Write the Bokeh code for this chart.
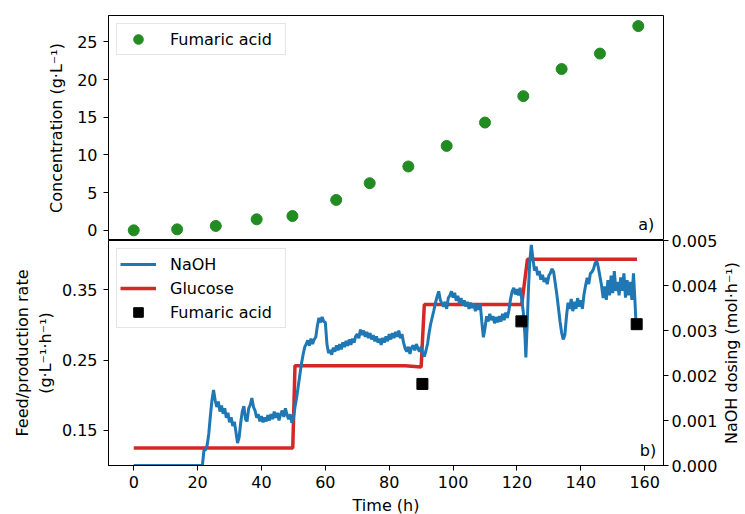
import math
from bokeh.plotting import figure
from bokeh.models import (Range1d, LinearAxis, FixedTicker, PrintfTickFormatter,
                          Legend, LegendItem, Label)
from bokeh.core.properties import value
from bokeh.layouts import column, row
from bokeh.embed import file_html
from bokeh.resources import INLINE

# ---------------- data ----------------
conc_time = [0, 13.6, 25.7, 38.5, 49.7, 63.4, 73.9, 86.0, 98.0, 110.0, 122.0, 134.0, 146.0, 158.0]
conc_fa = [0.0, 0.13, 0.58, 1.46, 1.9, 4.03, 6.25, 8.47, 11.2, 14.3, 17.8, 21.4, 23.45, 27.1]

glc_time = [0, 49.8, 50.5, 85.0, 90.0, 91.0, 121.5, 123.3, 157.6]
glc_rate = [0.125, 0.125, 0.242, 0.242, 0.240, 0.329, 0.329, 0.3935, 0.3935]

fa_time = [90.4, 121.4, 157.5]
fa_rate = [0.216, 0.305, 0.301]

# NaOH dosing, (time h, mmol/h)
naoh_points = [
    (0, 0.0), (21.5, 0.0), (22, 0.34), (22.5, 0.35), (23, 0.45), (23.5, 0.7), (24, 1.1), (24.5, 1.45),
    (25, 1.68), (25.5, 1.45), (26, 1.3), (26.5, 1.42), (27, 1.2), (27.5, 1.33), (28, 1.15), (28.5, 1.27),
    (29, 1.06), (29.5, 1.17), (30, 0.96), (30.5, 1.07), (31, 0.88), (31.5, 0.97), (32, 0.75), (32.5, 0.5),
    (33, 0.62), (33.5, 0.95), (34, 1.2), (34.5, 1.32), (35, 1.03), (35.5, 0.98), (36, 1.27), (36.5, 1.35),
    (37, 1.5), (37.5, 1.3), (38, 1.22), (38.5, 1.06), (39, 1.14), (39.5, 0.98), (40, 1.1), (40.5, 0.96),
    (41, 1.07), (41.5, 0.98), (42, 1.12), (42.5, 1.0), (43, 1.14), (43.5, 1.03), (44, 1.2), (44.5, 1.06),
    (45, 1.17), (45.5, 1.0), (46, 1.14), (46.5, 1.22), (47, 1.08), (47.5, 1.27), (48, 1.13), (48.5, 1.03),
    (49, 1.14), (49.5, 0.95), (50, 1.05), (50.5, 1.3), (51, 1.5), (51.5, 1.75), (52, 2.0), (52.5, 2.25),
    (53, 2.45), (53.5, 2.62), (54, 2.7), (54.5, 2.78), (55, 2.66), (55.5, 2.82), (56, 2.7), (56.5, 2.8),
    (57, 2.85), (57.5, 3.1), (58, 3.28), (58.5, 3.18), (59, 3.3), (59.5, 3.2), (60, 3.18), (60.5, 2.7),
    (61, 2.5), (61.5, 2.57), (62, 2.46), (62.5, 2.62), (63, 2.53), (63.5, 2.67), (64, 2.56), (64.5, 2.7),
    (65, 2.58), (65.5, 2.74), (66, 2.63), (66.5, 2.77), (67, 2.66), (67.5, 2.8), (68, 2.68), (68.5, 2.82),
    (69, 2.73), (69.5, 2.87), (70, 2.92), (70.5, 2.83), (71, 3.02), (71.5, 2.9), (72, 3.0), (72.5, 2.86),
    (73, 2.97), (73.5, 2.83), (74, 2.94), (74.5, 2.8), (75, 2.9), (75.5, 2.76), (76, 2.87), (76.5, 2.73),
    (77, 2.82), (77.5, 2.68), (78, 2.84), (78.5, 2.73), (79, 2.87), (79.5, 2.76), (80, 2.92), (80.5, 2.8),
    (81, 2.94), (81.5, 2.83), (82, 2.97), (82.5, 2.86), (83, 3.0), (83.5, 2.83), (84, 2.92), (84.5, 2.73),
    (85, 2.6), (85.5, 2.53), (86, 2.64), (86.5, 2.48), (87, 2.62), (87.5, 2.67), (88, 2.56), (88.5, 2.7),
    (89, 2.6), (89.5, 2.53), (90, 2.64), (90.5, 2.48), (91, 2.42), (91.5, 2.55), (92, 2.7), (92.5, 2.95),
    (93, 3.15), (93.5, 3.3), (94, 3.45), (94.5, 3.62), (95, 3.75), (95.5, 3.87), (96, 3.68), (96.5, 3.6),
    (97, 3.53), (97.5, 3.64), (98, 3.48), (98.5, 3.72), (99, 3.78), (99.5, 3.87), (100, 3.73), (100.5, 3.84),
    (101, 3.66), (101.5, 3.77), (102, 3.6), (102.5, 3.72), (103, 3.56), (103.5, 3.67), (104, 3.53), (104.5, 3.64),
    (105, 3.48), (105.5, 3.62), (106, 3.5), (106.5, 3.6), (107, 3.43), (107.5, 3.57), (108, 3.46), (108.5, 3.6),
    (109, 3.2), (109.5, 2.85), (110, 3.05), (110.5, 3.32), (111, 3.2), (111.5, 3.37), (112, 3.23), (112.5, 3.32),
    (113, 3.16), (113.5, 3.3), (114, 3.18), (114.5, 3.32), (115, 3.2), (115.5, 3.37), (116, 3.23), (116.5, 3.4),
    (117, 3.28), (117.5, 3.45), (118, 3.7), (118.5, 3.87), (119, 3.95), (119.5, 3.8), (120, 3.92), (120.5, 3.78),
    (121, 3.95), (121.5, 3.7), (122, 3.4), (122.5, 2.9), (122.8, 2.4), (123.2, 3.1), (123.6, 3.9), (124, 4.5),
    (124.5, 4.9), (125, 4.6), (125.5, 4.33), (126, 4.42), (126.5, 4.23), (127, 4.32), (127.5, 4.13), (128, 4.24),
    (128.5, 4.08), (129, 4.17), (129.5, 4.03), (130, 4.22), (130.5, 4.28), (131, 4.37), (131.5, 4.3), (132, 4.05),
    (132.5, 3.8), (133, 3.5), (133.5, 3.2), (134, 2.95), (134.5, 2.8), (135, 2.9), (135.5, 3.3), (136, 3.62),
    (136.5, 3.48), (137, 3.7), (137.5, 3.43), (138, 3.64), (138.5, 3.48), (139, 3.72), (139.5, 3.53), (140, 3.67),
    (140.5, 3.48), (141, 3.8), (141.5, 4.0), (142, 4.17), (142.5, 4.03), (143, 4.27), (143.5, 4.3), (144, 4.37),
    (144.5, 4.5), (145, 4.55), (145.5, 4.4), (146, 4.2), (146.5, 4.0), (147, 3.72), (147.5, 3.98), (148, 3.68),
    (148.5, 4.12), (149, 3.78), (149.5, 4.22), (150, 3.83), (150.5, 4.32), (151, 3.88), (151.5, 4.08), (152, 3.78),
    (152.5, 4.18), (153, 3.88), (153.5, 4.27), (154, 3.73), (154.5, 4.12), (155, 3.78), (155.5, 4.08), (156, 3.68),
    (156.5, 4.27), (157, 3.6), (157.3, 3.15),
]
naoh_time = [p[0] for p in naoh_points]
naoh_rate = [p[1] / 1000.0 for p in naoh_points]

x_ticks = [0, 20, 40, 60, 80, 100, 120, 140, 160]
conc_ticks = [0, 5, 10, 15, 20, 25]
rate_ticks = [0.15, 0.25, 0.35]
naoh_ticks = [0.0, 0.001, 0.002, 0.003, 0.004, 0.005]

naoh_title = "NaOH dosing (mol·h⁻¹)"

# ---------------- style ----------------
FONT = "DejaVu Sans"
FS = "16px"


def style_axis(ax, standoff_label=10, standoff_ticks=6):
    ax.axis_line_color = "black"
    ax.axis_line_width = 1
    ax.major_tick_line_color = "black"
    ax.major_tick_line_width = 1
    ax.major_tick_out = 5
    ax.major_tick_in = 0
    ax.minor_tick_line_color = None
    ax.major_label_text_font = FONT
    ax.major_label_text_font_size = FS
    ax.major_label_text_color = "black"
    ax.major_label_standoff = standoff_ticks
    ax.axis_label_text_font = FONT
    ax.axis_label_text_font_size = FS
    ax.axis_label_text_font_style = "normal"
    ax.axis_label_text_color = "black"
    ax.axis_label_standoff = standoff_label


def style_fig(p):
    p.xgrid.visible = False
    p.ygrid.visible = False
    p.outline_line_color = "black"
    p.outline_line_width = 1
    p.background_fill_color = "white"


def style_legend(lg):
    lg.location = "top_left"
    lg.margin = 8
    lg.padding = 3
    lg.spacing = 0
    lg.glyph_width = 36
    lg.glyph_height = 24
    lg.label_height = 24
    lg.label_width = 112
    lg.label_standoff = 14
    lg.label_text_font = FONT
    lg.label_text_font_size = FS
    lg.label_text_color = "black"
    lg.border_line_color = "#cccccc"
    lg.border_line_width = 1
    lg.background_fill_alpha = 0.8


x_range = Range1d(-7.9, 165.9)
FW = 555

# ---------------- top panel ----------------
top = figure(frame_width=FW, frame_height=225, x_range=x_range,
             y_range=Range1d(-1.35, 28.5), x_axis_location=None,
             output_backend="svg", toolbar_location=None,
             min_border_left=108, min_border_right=10, min_border_top=15, min_border_bottom=0)
style_fig(top)
top.yaxis.ticker = FixedTicker(ticks=conc_ticks, minor_ticks=[])
top.yaxis.axis_label = "Concentration (g·L⁻¹)"
style_axis(top.yaxis[0], 8, 6)
r_conc = top.scatter(conc_time, conc_fa, size=11, color="#228b22", marker="circle")
lg_top = Legend(items=[LegendItem(label="Fumaric acid", renderers=[r_conc])])
style_legend(lg_top)
top.add_layout(lg_top)
top.add_layout(Label(x=163.0, y=0.8, text="a)", text_align="right", text_baseline="middle",
                     text_font=FONT, text_font_size=FS, text_color="black"))

# ---------------- bottom panel ----------------
bot = figure(frame_width=FW, frame_height=225, x_range=x_range,
             y_range=Range1d(0.10, 0.42),
             output_backend="svg", toolbar_location=None,
             min_border_left=108, min_border_right=10, min_border_top=8, min_border_bottom=0)
style_fig(bot)
bot.border_fill_color = None
bot.extra_y_ranges = {"naoh": Range1d(0.0, 0.005)}

bot.xaxis.ticker = FixedTicker(ticks=x_ticks, minor_ticks=[])
bot.xaxis.axis_label = "Time (h)"
style_axis(bot.xaxis[0], 5, 5)

bot.yaxis.ticker = FixedTicker(ticks=rate_ticks, minor_ticks=[])
bot.yaxis.formatter = PrintfTickFormatter(format="%.2f")
bot.yaxis.axis_label = "Feed/production rate\n(g·L⁻¹·h⁻¹)"
style_axis(bot.yaxis[0], 4, 6)

ax_r = LinearAxis(y_range_name="naoh", ticker=FixedTicker(ticks=naoh_ticks, minor_ticks=[]),
                  formatter=PrintfTickFormatter(format="%.3f"))
style_axis(ax_r, 0, 3)
bot.add_layout(ax_r, "right")

r_glc = bot.line(glc_time, glc_rate, color="#d62728", line_width=3.5)
r_naoh = bot.line(naoh_time, naoh_rate, y_range_name="naoh", color="#1f77b4", line_width=3)
r_fa = bot.scatter(fa_time, fa_rate, marker="square", size=11, color="black")

lg_bot = Legend(items=[LegendItem(label="NaOH", renderers=[r_naoh]),
                       LegendItem(label="Glucose", renderers=[r_glc]),
                       LegendItem(label="Fumaric acid", renderers=[r_fa])])
style_legend(lg_bot)
bot.add_layout(lg_bot)
bot.add_layout(Label(x=163.6, y=0.121, text="b)", text_align="right", text_baseline="middle",
                     text_font=FONT, text_font_size=FS, text_color="black"))

bot.styles = {"margin-top": "-8px"}

# ---------------- right-hand axis title (rotated, reading upward) ----------------
# a narrow strip sharing the bottom panel's y scale and vertical placement
side = figure(width=21, frame_height=225, x_range=Range1d(0, 1), y_range=Range1d(0.10, 0.42),
              x_axis_location=None, y_axis_location=None,
              output_backend="svg", toolbar_location=None,
              min_border_left=0, min_border_right=0, min_border_top=240, min_border_bottom=40)
side.outline_line_color = None
side.xgrid.visible = False
side.ygrid.visible = False
side.text(x=[0.5], y=[0.26], text=[naoh_title], angle=math.pi / 2,
          text_align="center", text_baseline="middle",
          text_font=value(FONT), text_font_size=value(FS), text_color="black")

layout = row(column(top, bot), side)
open("out.html", "w").write(file_html(layout, INLINE))
